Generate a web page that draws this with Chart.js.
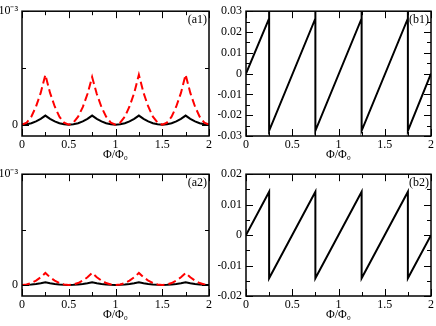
<!DOCTYPE html>
<html><head><meta charset="utf-8">
<script src="https://cdn.jsdelivr.net/npm/chart.js@4/dist/chart.umd.min.js"></script>
<style>
html,body{margin:0;padding:0;background:#fff;}
#wrap{position:relative;width:436px;height:326px;overflow:hidden;}
canvas{position:absolute;}
</style></head><body>
<div id="wrap">
<canvas id="a1" width="218" height="163" style="left:0;top:0"></canvas>
<canvas id="b1" width="218" height="163" style="left:218px;top:0"></canvas>
<canvas id="a2" width="218" height="163" style="left:0;top:163px"></canvas>
<canvas id="b2" width="218" height="163" style="left:218px;top:163px"></canvas>
</div>
<script>
// ---- data ----
const phi = [0,0.05,0.1,0.15,0.2,0.25,0.3,0.35,0.4,0.45,0.5,0.55,0.6,0.65,0.7,0.75,0.8,0.85,0.9,0.95,1,
             1.05,1.1,1.15,1.2,1.25,1.3,1.35,1.4,1.45,1.5,1.55,1.6,1.65,1.7,1.75,1.8,1.85,1.9,1.95,2];
// panel (a1), values in units of 10^-3
const a1Red   = [0,0.018,0.07,0.16,0.28,0.44,0.28,0.16,0.07,0.018,0,0.018,0.07,0.155,0.27,0.42,0.27,0.155,0.07,0.018,0,
                 0.018,0.07,0.16,0.28,0.44,0.28,0.16,0.07,0.018,0,0.018,0.07,0.16,0.28,0.44,0.28,0.16,0.07,0.018,0];
const a1Black = [0,0.003,0.013,0.029,0.051,0.08,0.051,0.029,0.013,0.003,0,0.003,0.013,0.029,0.051,0.08,0.051,0.029,0.013,0.003,0,
                 0.003,0.013,0.029,0.051,0.08,0.051,0.029,0.013,0.003,0,0.003,0.013,0.029,0.051,0.08,0.051,0.029,0.013,0.003,0];
// panel (a2), values in units of 10^-3
const a2Red   = [0,0.004,0.017,0.039,0.069,0.108,0.069,0.039,0.017,0.004,0,0.004,0.017,0.039,0.069,0.108,0.069,0.039,0.017,0.004,0,
                 0.004,0.017,0.039,0.069,0.108,0.069,0.039,0.017,0.004,0,0.004,0.017,0.039,0.069,0.108,0.069,0.039,0.017,0.004,0];
const a2Black = [0,0.001,0.004,0.009,0.016,0.025,0.016,0.009,0.004,0.001,0,0.001,0.004,0.009,0.016,0.025,0.016,0.009,0.004,0.001,0,
                 0.001,0.004,0.009,0.016,0.025,0.016,0.009,0.004,0.001,0,0.001,0.004,0.009,0.016,0.025,0.016,0.009,0.004,0.001,0];
// panel (b1) sawtooth vertices
const b1X = [0,0.25,0.25,0.25,0.75,0.75,0.75,1.25,1.25,1.25,1.75,1.75,1.75,2];
const b1Y = [0,0.0265,0.035,-0.0275,0.0265,0.035,-0.0275,0.0265,0.035,-0.0275,0.0265,0.035,-0.0275,0];
// panel (b2) sawtooth vertices
const b2X = [0,0.25,0.25,0.75,0.75,1.25,1.25,1.75,1.75,2];
const b2Y = [0,0.0142,-0.0142,0.0142,-0.0142,0.0142,-0.0142,0.0142,-0.0142,0];
// ticks
const xTicks = [0,0.5,1,1.5,2];
const xTickLabels = ['0','0.5','1','1.5','2'];
const xMinor = [0.25,0.75,1.25,1.75];
const aYTicks = [0,1];
const aYTickLabels = ['0','10\u207B\u00B3'];
const aYMinor = [0.5];
const b1YTicks = [-0.03,-0.02,-0.01,0,0.01,0.02,0.03];
const b1YTickLabels = ['-0.03','-0.02','-0.01','0','0.01','0.02','0.03'];
const b1YMinor = [-0.025,-0.015,-0.005,0.005,0.015,0.025];
const b2YTicks = [-0.02,-0.01,0,0.01,0.02];
const b2YTickLabels = ['-0.02','-0.01','0','0.01','0.02'];
const b2YMinor = [-0.015,-0.005,0.005,0.015];
const xTitle = '\u03A6/\u03A6\u2080';

// ---- drawing ----
const FONT = {family:'"Liberation Serif", "Times New Roman", serif', size:12};
const pts = (xs, ys) => xs.map((x,i)=>({x, y: ys[i]}));

const frame = {
  id:'frame',
  afterDraw(chart){
    const o = chart.options.plugins.frame;
    const {ctx, chartArea:{left,right,top,bottom}, scales:{x,y}} = chart;
    ctx.save();
    ctx.strokeStyle='#000'; ctx.lineWidth=1;
    const vt=(v,len)=>{const p=Math.round(x.getPixelForValue(v))+0.5;
      ctx.beginPath();ctx.moveTo(p,bottom);ctx.lineTo(p,bottom-len);ctx.moveTo(p,top);ctx.lineTo(p,top+len);ctx.stroke();};
    const ht=(v,len)=>{const p=Math.round(y.getPixelForValue(v))+0.5;
      ctx.beginPath();ctx.moveTo(left,p);ctx.lineTo(left+len,p);ctx.moveTo(right,p);ctx.lineTo(right-len,p);ctx.stroke();};
    o.xMajor.forEach(v=>vt(v,7)); o.xMinor.forEach(v=>vt(v,4));
    o.yMajor.forEach(v=>ht(v,7)); o.yMinor.forEach(v=>ht(v,4));
    ctx.lineWidth=1.5;
    ctx.strokeRect(left,top,right-left,bottom-top);
    ctx.fillStyle='#000';
    ctx.font = `${FONT.size}px ${FONT.family}`;
    ctx.textAlign='right'; ctx.textBaseline='middle';
    ctx.fillText(o.label, right-2, top+9);
    ctx.restore();
  }
};

function makeChart(id, datasets, cfg){
  new Chart(document.getElementById(id), {
    type:'line',
    data:{datasets},
    options:{
      responsive:false, animation:false,
      layout:{padding:{top:cfg.padTop, right:cfg.padRight, bottom:cfg.padBottom, left:0}},
      plugins:{legend:{display:false}, tooltip:{enabled:false},
        frame:{label:cfg.label, xMajor:xTicks, xMinor:xMinor, yMajor:cfg.yTicks, yMinor:cfg.yMinor}},
      elements:{point:{radius:0}, line:{tension:0, borderJoinStyle:'miter'}},
      scales:{
        x:{type:'linear', min:0, max:2,
          grid:{display:false, drawTicks:false}, border:{display:false},
          afterBuildTicks:s=>{s.ticks = xTicks.map(v=>({value:v}));},
          afterFit:s=>{s.height=27;},
          ticks:{color:'#000', font:FONT, padding:2, maxRotation:0, autoSkip:false,
            callback:(v,i)=>xTickLabels[i]},
          title:{display:true, text:xTitle, color:'#000', font:FONT, padding:{top:0,bottom:1}}},
        y:{type:'linear', min:cfg.yMin, max:cfg.yMax,
          grid:{display:false, drawTicks:false}, border:{display:false},
          afterBuildTicks:s=>{s.ticks = cfg.yTicks.map(v=>({value:v}));},
          afterFit:s=>{s.width=cfg.yWidth;},
          ticks:{color:'#000', font:FONT, padding:4, autoSkip:false,
            callback:(v,i)=>cfg.yLabels[i]}}
      }
    },
    plugins:[frame]
  });
}

const redDash = data => ({data, borderColor:'#ff0000', borderWidth:2, borderDash:[8,4], fill:false});
const black = data => ({data, borderColor:'#000000', borderWidth:2, fill:false});

makeChart('a1', [redDash(pts(phi,a1Red)), black(pts(phi,a1Black))],
  {label:'(a1)', padTop:6, padRight:9, padBottom:0, yWidth:22, yMin:-0.1, yMax:1,
   yTicks:aYTicks, yLabels:aYTickLabels, yMinor:aYMinor});
makeChart('b1', [black(pts(b1X,b1Y))],
  {label:'(b1)', padTop:6, padRight:4, padBottom:0, yWidth:28, yMin:-0.03, yMax:0.03,
   yTicks:b1YTicks, yLabels:b1YTickLabels, yMinor:b1YMinor});
makeChart('a2', [redDash(pts(phi,a2Red)), black(pts(phi,a2Black))],
  {label:'(a2)', padTop:3, padRight:9, padBottom:3, yWidth:22, yMin:-0.1, yMax:1,
   yTicks:aYTicks, yLabels:aYTickLabels, yMinor:aYMinor});
makeChart('b2', [black(pts(b2X,b2Y))],
  {label:'(b2)', padTop:3, padRight:4, padBottom:3, yWidth:28, yMin:-0.02, yMax:0.02,
   yTicks:b2YTicks, yLabels:b2YTickLabels, yMinor:b2YMinor});
</script>
</body></html>
